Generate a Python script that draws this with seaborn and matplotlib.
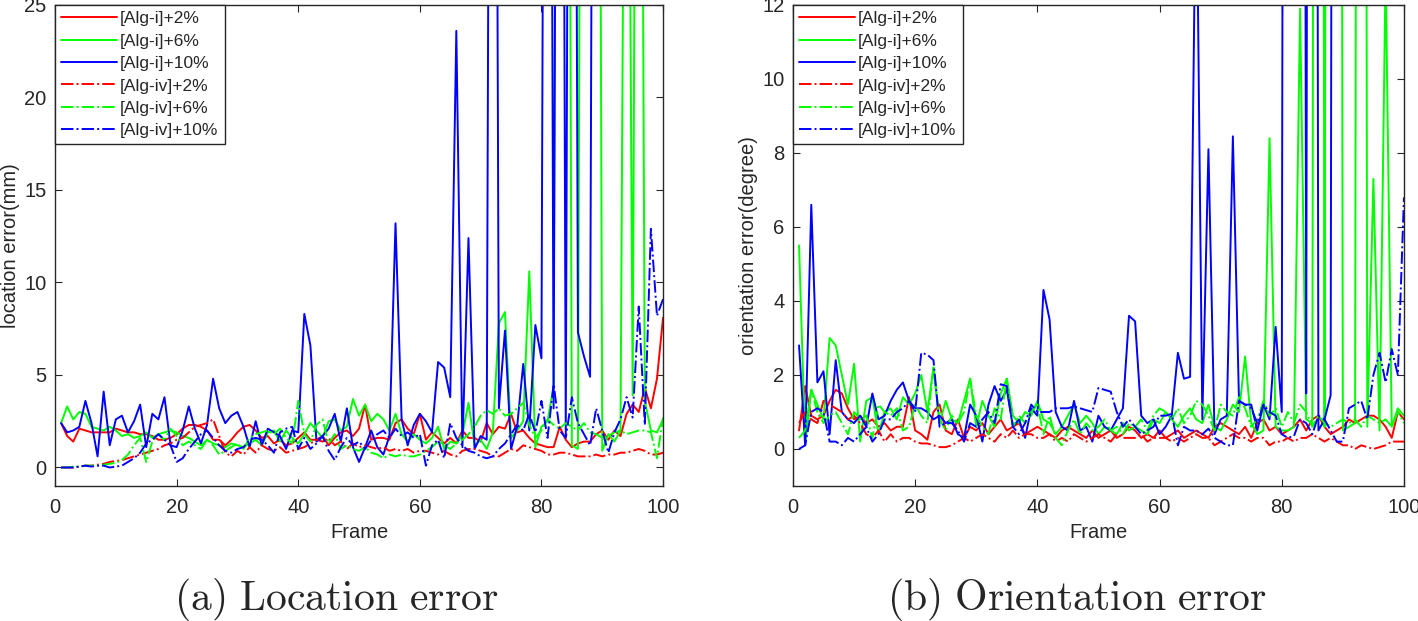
import numpy as np
import pandas as pd
import matplotlib
matplotlib.use("Agg")
import matplotlib.pyplot as plt
import seaborn as sns

# === Data (values above the axis limit = diverged) ===
frames = list(range(1, 101))
labels = ["[Alg-i]+2%", "[Alg-i]+6%", "[Alg-i]+10%",
          "[Alg-iv]+2%", "[Alg-iv]+6%", "[Alg-iv]+10%"]

# (a) location error (mm)
loc_i2 = [2.4, 1.7, 1.4, 2.1, 2.0, 1.9, 1.9, 1.9, 1.9, 2.1,
          2.0, 1.9, 1.9, 1.8, 1.8, 1.7, 1.5, 1.5, 1.6, 1.8,
          2.1, 2.3, 2.3, 2.2, 2.0, 1.5, 1.5, 1.2, 1.5, 1.9,
          2.2, 2.3, 2.0, 1.6, 1.7, 1.3, 1.5, 1.2, 1.3, 1.6,
          1.9, 1.5, 1.5, 1.7, 1.2, 1.6, 1.9, 2.0, 1.7, 2.1,
          3.4, 1.5, 1.6, 1.6, 1.5, 2.4, 2.6, 2.1, 1.8, 2.9,
          1.5, 1.9, 1.6, 1.3, 1.6, 1.3, 2.0, 1.6, 1.6, 1.4,
          2.4, 1.8, 2.2, 2.1, 2.9, 1.9, 2.0, 1.6, 1.3, 1.2,
          1.1, 1.1, 2.2, 1.5, 1.1, 1.3, 1.4, 1.4, 1.8, 2.0,
          1.5, 2.0, 1.7, 2.9, 3.4, 3.0, 4.3, 3.2, 4.8, 8.1]
loc_i6 = [2.4, 3.3, 2.6, 3.0, 2.9, 2.2, 2.1, 2.0, 2.2, 2.0,
          1.7, 1.8, 1.6, 1.7, 1.9, 1.6, 1.8, 1.9, 2.0, 1.9,
          1.7, 1.6, 1.4, 1.2, 1.5, 1.3, 1.2, 1.1, 1.3, 1.2,
          1.1, 1.3, 1.5, 1.2, 1.9, 2.0, 1.4, 2.0, 1.6, 1.3,
          1.8, 2.4, 2.0, 1.6, 2.5, 2.6, 2.0, 2.2, 3.7, 2.8,
          3.4, 2.5, 2.9, 2.6, 2.0, 2.9, 1.8, 1.4, 1.8, 1.5,
          1.3, 1.6, 2.2, 1.0, 1.4, 1.3, 1.8, 3.5, 1.2, 1.5,
          1.0, 1.9, 7.8, 8.4, 1.6, 2.0, 2.5, 10.6, 1.1, 2.2,
          2.5, 4.4, 100, 100, 1.2, 1.0, 100, 100, 100, 0.9,
          1.8, 1.4, 2.0, 60, 3.9, 80, 3.6, 2.0, 1.9, 2.6]
loc_i10 = [2.4, 1.9, 2.0, 2.2, 3.6, 2.4, 0.6, 4.1, 1.2, 2.6,
           2.8, 1.9, 2.5, 3.4, 1.1, 2.9, 2.6, 3.8, 1.2, 1.1,
           2.0, 3.3, 2.1, 1.3, 2.3, 4.8, 3.2, 2.4, 2.8, 3.0,
           2.2, 1.1, 2.5, 1.2, 2.1, 1.9, 1.7, 1.0, 2.0, 1.9,
           8.3, 6.6, 1.4, 1.7, 2.1, 2.9, 1.4, 3.2, 1.1, 0.3,
           1.1, 2.0, 1.1, 0.7, 1.7, 13.2, 2.6, 1.2, 2.3, 2.9,
           2.5, 1.9, 5.7, 5.4, 3.8, 23.6, 1.1, 12.4, 1.0, 1.7,
           1.5, 100, 3.2, 7.4, 1.0, 2.2, 5.6, 2.0, 7.7, 5.9,
           100, 3.2, 100, 1.7, 100, 7.3, 6.0, 4.9, 100, 100,
           100, 100, 100, 100, 100, 100, 100, 100, 100, 100]
loc_iv2 = [0.0, 0.0, 0.0, 0.05, 0.1, 0.1, 0.15, 0.2, 0.3, 0.35,
           0.4, 0.5, 0.6, 0.7, 0.8, 0.9, 1.0, 1.2, 1.3, 1.5,
           1.6, 1.9, 2.2, 2.3, 2.4, 2.6, 1.7, 0.8, 0.6, 0.9,
           0.7, 1.1, 0.8, 1.2, 1.0, 0.9, 1.1, 0.8, 0.9, 1.0,
           1.1, 1.3, 1.5, 1.4, 1.6, 1.2, 1.4, 1.0, 1.3, 1.1,
           1.2, 1.1, 1.0, 1.1, 0.9, 1.0, 0.9, 1.0, 0.8, 0.9,
           0.9, 0.8, 0.7, 0.9, 0.7, 0.6, 0.9, 1.0, 1.0, 0.9,
           0.8, 0.6, 0.6, 0.8, 1.0, 0.9, 1.2, 1.1, 1.0, 0.9,
           0.7, 0.7, 0.8, 0.8, 0.7, 0.6, 0.6, 0.6, 0.7, 0.6,
           0.7, 0.7, 0.8, 0.8, 0.9, 1.0, 0.9, 0.7, 0.7, 0.8]
loc_iv6 = [0.0, 0.0, 0.05, 0.05, 0.1, 0.1, 0.1, 0.15, 0.2, 0.25,
           0.4, 0.7, 1.2, 1.6, 0.3, 1.4, 1.8, 1.5, 2.1, 1.7,
           1.2, 1.4, 1.2, 1.0, 1.5, 1.2, 0.7, 0.9, 1.1, 1.3,
           1.0, 1.6, 1.8, 1.9, 2.0, 1.8, 2.1, 1.6, 1.3, 3.6,
           1.8, 1.4, 2.3, 2.6, 1.3, 1.8, 1.0, 1.2, 1.0, 0.9,
           1.1, 0.8, 0.7, 0.5, 0.7, 0.6, 0.7, 0.6, 0.6, 0.7,
           0.9, 1.1, 1.4, 1.2, 1.0, 1.3, 1.5, 1.8, 2.2, 2.8,
           3.1, 2.9, 3.2, 2.8, 2.9, 3.2, 3.5, 2.3, 1.6, 2.0,
           2.6, 2.3, 2.1, 2.4, 2.2, 2.0, 2.4, 1.9, 1.8, 1.6,
           1.7, 1.9, 2.0, 1.8, 1.9, 2.0, 2.0, 1.9, 0.5, 2.7]
loc_iv10 = [0.0, 0.0, 0.0, 0.05, 0.1, 0.05, 0.1, 0.1, 0.0, 0.05,
            0.1, 0.3, 0.5, 0.8, 1.3, 1.5, 1.8, 1.5, 1.2, 0.3,
            0.5, 1.0, 1.4, 1.8, 2.0, 1.6, 1.2, 0.9, 0.8, 1.0,
            1.1, 1.5, 1.6, 1.5, 1.2, 0.8, 1.9, 2.1, 2.2, 1.0,
            1.6, 1.0, 1.3, 1.7, 0.9, 0.4, 1.1, 1.6, 1.2, 1.4,
            1.0, 1.5, 1.8, 2.0, 1.6, 2.1, 1.7, 1.9, 1.6, 1.8,
            0.1, 1.2, 1.5, 0.5, 2.4, 1.6, 1.2, 0.9, 0.8, 0.6,
            0.5, 0.6, 1.0, 1.3, 1.8, 2.3, 2.0, 2.9, 1.9, 3.6,
            1.6, 4.5, 2.0, 1.6, 3.8, 2.4, 1.8, 1.2, 3.2, 2.0,
            0.8, 1.9, 2.6, 3.8, 2.7, 8.7, 2.3, 12.9, 8.2, 9.1]

# (b) orientation error (degree)
ori_i2 = [0.5, 1.7, 0.9, 0.8, 0.9, 1.3, 1.6, 1.5, 1.1, 0.8,
          0.9, 0.7, 0.8, 0.6, 0.7, 0.5, 0.6, 0.6, 1.4, 0.5,
          0.4, 0.25, 1.0, 1.2, 0.5, 0.4, 0.8, 0.3, 0.6, 0.5,
          0.7, 0.4, 0.6, 0.8, 0.5, 0.6, 0.7, 0.4, 0.5, 0.6,
          0.5, 0.4, 0.3, 0.5, 0.6, 0.5, 0.4, 0.3, 0.5, 0.3,
          0.4, 0.5, 0.3, 0.4, 0.6, 0.5, 0.3, 0.4, 0.3, 0.5,
          0.3, 0.4, 0.5, 0.3, 0.4, 0.5, 0.4, 0.3, 0.6, 0.7,
          0.6, 0.5, 0.4, 0.6, 0.3, 0.7, 0.8, 0.5, 0.6, 0.4,
          0.5, 0.6, 0.8, 0.5, 0.8, 0.9, 0.6, 0.4, 0.5, 0.6,
          0.8, 0.7, 0.8, 0.9, 0.9, 0.8, 0.6, 0.3, 1.0, 0.8]
ori_i6 = [5.5, 0.1, 1.6, 1.2, 0.8, 3.0, 2.8, 2.0, 1.2, 2.3,
          0.2, 1.3, 1.4, 0.4, 1.0, 1.1, 0.8, 1.4, 1.2, 1.5,
          2.0, 1.0, 2.2, 0.7, 1.3, 0.8, 0.7, 1.3, 1.9, 0.6,
          1.3, 0.9, 0.6, 1.5, 1.9, 0.9, 0.7, 1.0, 0.9, 1.3,
          0.8, 0.7, 0.4, 0.6, 0.9, 1.2, 0.7, 0.9, 0.7, 0.4,
          0.6, 0.5, 0.4, 0.7, 0.5, 0.6, 0.5, 0.4, 0.8, 0.7,
          1.0, 0.8, 0.6, 0.9, 1.1, 0.8, 0.7, 1.2, 0.6, 0.5,
          0.8, 1.2, 1.0, 2.5, 0.7, 0.4, 0.5, 8.4, 0.6, 0.5,
          0.5, 0.6, 11.9, 0.8, 0.7, 100, 0.6, 100, 100, 0.5,
          0.6, 0.7, 100, 0.6, 7.3, 0.5, 13.0, 0.6, 1.1, 0.9]
ori_i10 = [2.8, 0.1, 6.6, 1.8, 2.1, 0.4, 2.4, 1.0, 0.8, 0.7,
           0.9, 0.6, 1.5, 0.8, 0.9, 1.3, 1.6, 1.8, 1.3, 1.1,
           1.1, 1.0, 0.8, 0.9, 0.7, 0.8, 0.4, 0.3, 1.2, 0.9,
           0.2, 1.2, 1.7, 1.3, 1.6, 0.6, 0.8, 0.3, 1.1, 0.9,
           4.3, 3.5, 1.0, 0.6, 0.5, 1.3, 0.5, 0.6, 0.2, 0.9,
           0.6, 0.5, 0.8, 1.1, 3.6, 3.45, 0.9, 0.7, 0.8, 0.4,
           0.6, 0.9, 2.6, 1.9, 1.95, 16.5, 0.8, 8.1, 0.4, 0.8,
           0.9, 8.45, 1.3, 1.2, 1.2, 0.5, 1.2, 0.8, 3.3, 1.0,
           100, 100, 100, 1.5, 100, 0.5, 0.8, 1.45, 100, 100,
           100, 100, 100, 100, 100, 100, 100, 100, 100, 100]
ori_iv2 = [0.7, 1.0, 0.8, 0.7, 1.3, 1.2, 1.1, 1.0, 0.8, 0.9,
           0.7, 0.4, 0.3, 0.5, 0.2, 0.4, 0.2, 0.3, 0.3, 0.2,
           0.15, 0.15, 0.1, 0.05, 0.05, 0.1, 0.2, 0.3, 0.2, 0.3,
           0.4, 0.3, 0.2, 0.4, 0.3, 0.5, 0.3, 0.4, 0.4, 0.3,
           0.3, 0.4, 0.2, 0.3, 0.2, 0.4, 0.3, 0.2, 0.3, 0.4,
           0.3, 0.2, 0.4, 0.3, 0.3, 0.3, 0.4, 0.2, 0.3, 0.3,
           0.3, 0.2, 0.3, 0.2, 0.3, 0.4, 0.3, 0.3, 0.1, 0.2,
           0.3, 0.4, 0.3, 0.3, 0.2, 0.3, 0.3, 0.1, 0.2, 0.2,
           0.3, 0.2, 0.3, 0.3, 0.4, 0.3, 0.2, 0.3, 0.2, 0.1,
           0.1, 0.0, 0.1, 0.05, 0.0, 0.05, 0.1, 0.2, 0.2, 0.2]
ori_iv6 = [0.3, 0.5, 1.6, 1.0, 0.7, 0.9, 1.0, 0.7, 0.4, 1.0,
           0.8, 0.9, 0.3, 1.2, 1.0, 0.9, 1.1, 0.5, 0.6, 1.2,
           0.9, 0.7, 2.2, 0.8, 0.5, 0.9, 0.7, 1.0, 1.9, 0.9,
           0.6, 0.4, 1.1, 0.8, 1.9, 0.6, 0.9, 0.7, 1.0, 1.2,
           0.4, 0.9, 0.3, 0.1, 0.5, 0.8, 0.4, 0.7, 0.5, 0.6,
           0.8, 0.5, 0.6, 0.4, 0.7, 0.6, 0.8, 0.5, 0.9, 1.1,
           1.0, 0.8, 1.1, 0.7, 0.9, 1.3, 1.2, 0.9, 0.5, 1.2,
           1.0, 0.9, 1.4, 1.1, 0.6, 0.8, 1.3, 0.9, 1.1, 0.6,
           1.0, 0.7, 1.2, 1.0, 0.6, 0.9, 0.7, 0.6, 0.7, 0.8,
           0.7, 0.8, 0.6, 0.9, 0.8, 0.7, 0.8, 0.6, 1.0, 0.7]
ori_iv10 = [0.0, 0.1, 1.0, 1.1, 1.0, 0.2, 0.2, 0.1, 0.3, 0.2,
            0.4, 0.6, 0.2, 0.4, 0.8, 0.8, 1.0, 1.1, 1.3, 1.0,
            2.6, 2.55, 2.4, 0.6, 0.7, 0.7, 0.5, 0.2, 0.7, 0.6,
            0.8, 1.0, 0.7, 1.75, 1.7, 0.6, 0.4, 0.7, 1.2, 1.0,
            1.0, 1.0, 1.1, 1.1, 1.1, 1.15, 1.1, 1.05, 1.0, 1.65,
            1.6, 1.55, 1.0, 0.6, 0.8, 0.6, 0.4, 0.5, 0.6, 0.9,
            0.9, 0.95, 0.1, 0.6, 0.5, 0.5, 0.4, 0.55, 0.3, 0.2,
            0.1, 0.1, 1.3, 1.2, 1.1, 0.7, 1.2, 1.0, 0.9, 0.4,
            0.3, 0.35, 0.8, 0.7, 0.4, 0.9, 0.8, 0.5, 0.2, 0.2,
            1.1, 1.2, 1.3, 0.8, 2.0, 2.6, 1.8, 2.7, 2.0, 6.8]

colors = ["#ff0000", "#00ff00", "#0000ff"] * 2
styles = ["-"] * 3 + ["-."] * 3

sns.set_theme(style="ticks")
plt.rcParams["font.family"] = ["Liberation Sans", "DejaVu Sans"]
plt.rcParams["mathtext.fontset"] = "cm"
plt.rcParams["xtick.direction"] = "in"
plt.rcParams["ytick.direction"] = "in"
plt.rcParams["xtick.top"] = True
plt.rcParams["ytick.right"] = True

fig = plt.figure(figsize=(14.18, 6.21), dpi=100)
ax1 = fig.add_axes([0.0388, 0.2174, 0.4288, 0.7746])
ax2 = fig.add_axes([0.5592, 0.2174, 0.4309, 0.7746])

panels = [
    (ax1, [loc_i2, loc_i6, loc_i10, loc_iv2, loc_iv6, loc_iv10],
     "location error(mm)", (-1, 25), [0, 5, 10, 15, 20, 25]),
    (ax2, [ori_i2, ori_i6, ori_i10, ori_iv2, ori_iv6, ori_iv10],
     "orientation error(degree)", (-1, 12), [0, 2, 4, 6, 8, 10, 12]),
]

for ax, series, ylab, ylim, yticks in panels:
    for vals, lab, c, ls in zip(series, labels, colors, styles):
        line_kw = dict(dashes=(4, 2, 1, 2)) if ls == "-." else {}
        sns.lineplot(x=frames, y=vals, ax=ax, color=c, linestyle=ls,
                     linewidth=1.4, label=lab, **line_kw)
    ax.set_xlim(0, 100)
    ax.set_ylim(*ylim)
    ax.set_xticks([0, 20, 40, 60, 80, 100])
    ax.set_yticks(yticks)
    ax.set_xlabel("Frame", fontsize=14.5, color="#262626", labelpad=4)
    ax.set_ylabel(ylab, fontsize=14.5, color="#262626", labelpad=3)
    ax.tick_params(axis="x", pad=9)
    ax.tick_params(axis="y", pad=6)
    ax.tick_params(labelsize=14.5, colors="#262626", length=5, width=0.8)
    for sp in ax.spines.values():
        sp.set_color("#262626")
        sp.set_linewidth(1.0)
    leg = ax.legend(loc="upper left", borderaxespad=0, fontsize=12.5,
                    handlelength=3.2, handletextpad=0.2, labelspacing=0.42,
                    borderpad=0.35, fancybox=False, framealpha=1)
    leg.get_frame().set_edgecolor("#262626")
    leg.get_frame().set_linewidth(1.0)

fig.text(0.237, 0.034, r"$\mathrm{(a)\ Location\ error}$", fontsize=30,
         ha="center", va="center")
fig.text(0.7595, 0.034, r"$\mathrm{(b)\ Orientation\ error}$", fontsize=30,
         ha="center", va="center")

fig.savefig("out.png", dpi=100)
